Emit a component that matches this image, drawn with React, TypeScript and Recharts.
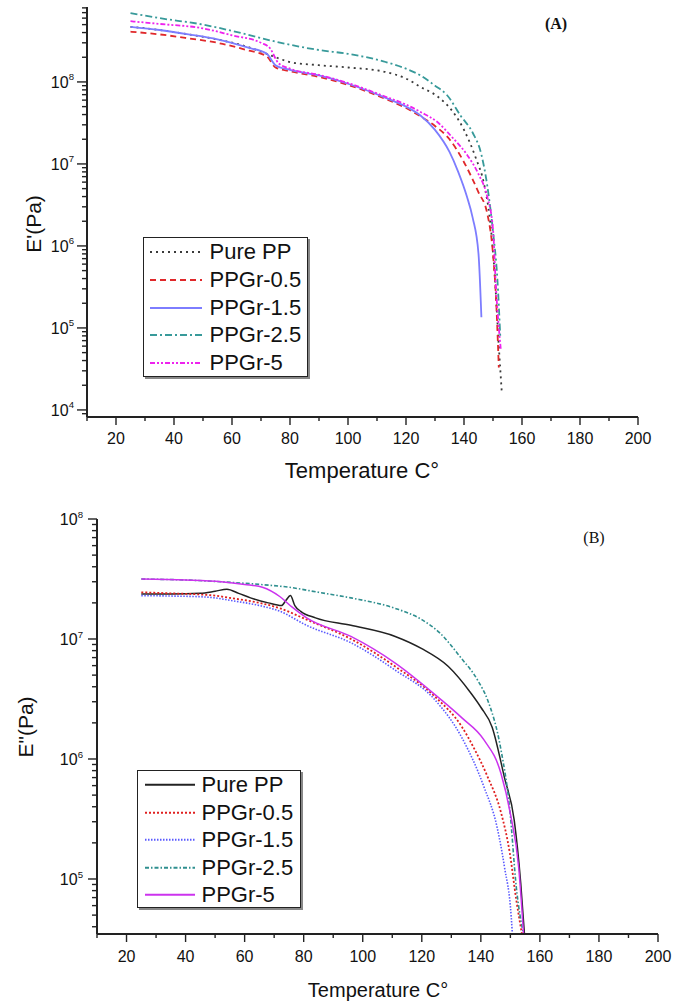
import React from "react";
import { LineChart, Line, XAxis, YAxis, Legend } from "recharts";

const FONT = '"Liberation Sans", Arial, Helvetica, sans-serif';
const SERIF = '"Liberation Serif", "Times New Roman", serif';

// temperature axis (both panels)
const tempTicks = [10, 20, 30, 40, 50, 60, 70, 80, 90, 100, 110, 120, 130, 140, 150, 160, 170, 180, 190, 200];
const tempLabels = [20, 40, 60, 80, 100, 120, 140, 160, 180, 200];

// (A) storage modulus E' (Pa)
const aPureT = [25, 35, 45, 55, 65, 72, 75, 80, 90, 100, 113, 120, 125, 131, 136, 140, 144, 147, 149, 150.5, 152, 153];
const aPureE = [4.7e8, 4.3e8, 3.8e8, 3.3e8, 2.7e8, 2.2e8, 2.0e8, 1.75e8, 1.6e8, 1.5e8, 1.32e8, 1.1e8, 8.7e7, 6.6e7, 4.4e7, 2.6e7, 1.2e7, 5.5e6, 2e6, 5e5, 6e4, 1.7e4];
const a05T = [25, 35, 45, 55, 65, 72, 75, 80, 90, 100, 113, 120, 125, 130, 135, 140, 145, 148, 150, 151, 152];
const a05E = [4.1e8, 3.8e8, 3.4e8, 3.0e8, 2.45e8, 2.05e8, 1.5e8, 1.35e8, 1.15e8, 9.2e7, 6.2e7, 4.8e7, 3.8e7, 2.9e7, 2e7, 1.05e7, 4.5e6, 2.5e6, 8e5, 2.5e5, 3.3e4];
const a15T = [25, 35, 45, 55, 65, 72, 75, 80, 90, 100, 113, 120, 125, 130, 135, 138, 141, 143, 145, 146];
const a15E = [4.7e8, 4.3e8, 3.8e8, 3.3e8, 2.65e8, 2.2e8, 1.6e8, 1.4e8, 1.2e8, 9.5e7, 6.4e7, 5e7, 3.9e7, 2.6e7, 1.4e7, 8e6, 4e6, 2.2e6, 8e5, 1.35e5];
const a25T = [25, 35, 50, 65, 75, 90, 100, 113, 120, 125, 130, 134, 139, 143, 146, 148, 150, 151.5, 152.5];
const a25E = [6.9e8, 6.0e8, 5.0e8, 3.8e8, 3.1e8, 2.45e8, 2.2e8, 1.75e8, 1.45e8, 1.2e8, 9e7, 7e7, 3.8e7, 2.4e7, 1.3e7, 5.5e6, 1.5e6, 4e5, 8e4];
const a5T = [25, 35, 50, 60, 70, 73, 76, 80, 90, 100, 113, 120, 125, 131, 136, 141, 145, 148, 150, 151, 152.7];
const a5E = [5.5e8, 5.1e8, 4.5e8, 3.7e8, 3.0e8, 2.6e8, 1.7e8, 1.45e8, 1.22e8, 9.7e7, 6.6e7, 5.3e7, 4.3e7, 3.2e7, 2.1e7, 1.3e7, 7.5e6, 4e6, 1.6e6, 3.2e5, 5.4e4];

// (B) loss modulus E'' (Pa)
const bPureT = [25, 35, 45, 50, 54, 58, 62, 68, 72.5, 74, 75.5, 77, 79, 84, 96, 111, 120, 129, 136.6, 140, 143.8, 148, 151.3, 153.5, 154.8];
const bPureE = [2.37e7, 2.37e7, 2.4e7, 2.5e7, 2.6e7, 2.4e7, 2.2e7, 2.0e7, 1.9e7, 2.1e7, 2.3e7, 1.9e7, 1.7e7, 1.5e7, 1.3e7, 1.05e7, 8.3e6, 5.9e6, 3.55e6, 2.7e6, 1.85e6, 7e5, 3.1e5, 9.3e4, 3.4e4];
const b05T = [25, 35, 45, 50, 55, 65, 72, 81, 96, 111, 124.5, 133.6, 137.9, 142.3, 146.8, 149.8, 152, 154];
const b05E = [2.45e7, 2.4e7, 2.35e7, 2.3e7, 2.2e7, 2.0e7, 1.8e7, 1.45e7, 1e7, 5.9e6, 3.3e6, 1.85e6, 1.2e6, 7.1e5, 3.6e5, 1.65e5, 6.7e4, 3.4e4];
const b15T = [25, 35, 45, 50, 55, 65, 72, 81, 96, 111, 124.5, 133.6, 141, 145.5, 148, 150.3, 150.7];
const b15E = [2.3e7, 2.28e7, 2.25e7, 2.2e7, 2.1e7, 1.9e7, 1.7e7, 1.3e7, 9.3e6, 5.5e6, 3.1e6, 1.5e6, 5.9e5, 2.7e5, 1.26e5, 4.8e4, 3.4e4];
const b25T = [25, 40, 52, 65, 75, 85, 96, 111, 120, 126, 133, 139, 142.3, 146.8, 149.8, 152, 154.5];
const b25E = [3.16e7, 3.1e7, 3.0e7, 2.85e7, 2.7e7, 2.45e7, 2.2e7, 1.8e7, 1.45e7, 1.13e7, 7.1e6, 4.5e6, 3.1e6, 1.2e6, 3.8e5, 8.6e4, 3.4e4];
const b5T = [25, 40, 52, 60, 66, 72, 76, 81, 96, 111, 126, 133.6, 141, 146.8, 150, 152.8, 154.5];
const b5E = [3.16e7, 3.1e7, 3.0e7, 2.85e7, 2.7e7, 2.25e7, 1.85e7, 1.5e7, 1.05e7, 6.3e6, 3.2e6, 2.2e6, 1.45e6, 7.6e5, 3.5e5, 1.26e5, 3.4e4];

const toPts = (t: number[], e: number[]) => t.map((tv, i) => ({ t: tv, e: e[i] }));

type Series = { name: string; data: { t: number; e: number }[]; color: string; dash?: string; width: number };

const seriesA: Series[] = [
  { name: "Pure PP", data: toPts(aPureT, aPureE), color: "#3a3a3a", dash: "2 4", width: 1.8 },
  { name: "PPGr-0.5", data: toPts(a05T, a05E), color: "#e0282a", dash: "6 4", width: 1.8 },
  { name: "PPGr-1.5", data: toPts(a15T, a15E), color: "#7d7dff", width: 1.8 },
  { name: "PPGr-2.5", data: toPts(a25T, a25E), color: "#389a9a", dash: "7 3 2 3", width: 1.8 },
  { name: "PPGr-5", data: toPts(a5T, a5E), color: "#ee22ee", dash: "5 2 2 2 2 2", width: 1.8 },
];

const seriesB: Series[] = [
  { name: "Pure PP", data: toPts(bPureT, bPureE), color: "#222222", width: 1.5 },
  { name: "PPGr-0.5", data: toPts(b05T, b05E), color: "#e02020", dash: "2 2", width: 1.8 },
  { name: "PPGr-1.5", data: toPts(b15T, b15E), color: "#5a5aff", dash: "1.5 1.5", width: 1.6 },
  { name: "PPGr-2.5", data: toPts(b25T, b25E), color: "#2f8f8f", dash: "4 2 1.5 2", width: 1.6 },
  { name: "PPGr-5", data: toPts(b5T, b5E), color: "#cc33ee", width: 1.5 },
];

// log ticks: decades plus 2..9 minors, kept inside the domain
const logTicks = (decades: number[], lo: number, hi: number) =>
  decades
    .flatMap((d) => [1, 2, 3, 4, 5, 6, 7, 8, 9].map((m) => m * 10 ** d))
    .filter((v) => v >= lo && v <= hi);

const domainA: [number, number] = [8.2e3, 8.2e8];
const domainB: [number, number] = [3.48e4, 1e8];
const yTicksA = logTicks([3, 4, 5, 6, 7, 8], domainA[0], domainA[1]);
const yTicksB = logTicks([4, 5, 6, 7, 8], domainB[0], domainB[1]);

function YLogTick(props: any) {
  const { x, y, payload, major, minor, fontSize, gap } = props;
  const exp = Math.log10(payload.value);
  const isMajor = Math.abs(exp - Math.round(exp)) < 1e-9;
  const len = isMajor ? major : minor;
  return (
    <g>
      <line x1={x} x2={x - len} y1={y} y2={y} stroke="#222" strokeWidth={1.4} />
      {isMajor && (
        <text x={x - major - gap} y={y + fontSize * 0.36} textAnchor="end" fontSize={fontSize} fontFamily={FONT} fill="#111">
          10
          <tspan dy={-fontSize * 0.45} fontSize={fontSize * 0.6}>
            {Math.round(exp)}
          </tspan>
        </text>
      )}
    </g>
  );
}

function XTempTick(props: any) {
  const { x, y, payload, major, minor, fontSize, labelDy } = props;
  const isMajor = tempLabels.includes(payload.value);
  return (
    <g>
      <line x1={x} x2={x} y1={y} y2={y + (isMajor ? major : minor)} stroke="#222" strokeWidth={1.4} />
      {isMajor && (
        <text x={x} y={y + labelDy} textAnchor="middle" fontSize={fontSize} fontFamily={FONT} fill="#111">
          {payload.value}
        </text>
      )}
    </g>
  );
}

function TopTick(props: any) {
  const { x, y } = props;
  return <line x1={x} x2={x} y1={y} y2={y + 3} stroke="#444" strokeWidth={1} />;
}

function LegendBox({ series, rowH, lineX, lineW, textX, fontSize }: any) {
  return (
    <div
      style={{
        position: "relative",
        width: "100%",
        height: "100%",
        boxSizing: "border-box",
        border: "1.5px solid #222",
        boxShadow: "2px 2px 0 #888",
        background: "#fff",
        fontFamily: FONT,
      }}
    >
      {series.map((s: Series, i: number) => (
        <div key={s.name} style={{ position: "absolute", left: 0, top: i * rowH, width: "100%", height: rowH }}>
          <svg style={{ position: "absolute", left: lineX, top: 0 }} width={lineW} height={rowH}>
            <line x1={0} x2={lineW} y1={rowH / 2} y2={rowH / 2} stroke={s.color} strokeWidth={2} strokeDasharray={s.dash} />
          </svg>
          <span style={{ position: "absolute", left: textX, top: 0, lineHeight: `${rowH}px`, fontSize, color: "#111", whiteSpace: "nowrap" }}>
            {s.name}
          </span>
        </div>
      ))}
    </div>
  );
}

const axisStroke = { stroke: "#222", strokeWidth: 2 };

function Panel(props: any) {
  const { series, domain, yTicks, width, height, plot, yTitle, tag, tickFont, yTick, xTick, titles, legend } = props;
  return (
    <LineChart
      width={width}
      height={height}
      margin={{ top: plot.top, right: width - plot.right, left: 0, bottom: 0 }}
    >
      <XAxis
        dataKey="t"
        type="number"
        domain={[10, 200]}
        ticks={tempTicks}
        interval={0}
        height={height - plot.bottom}
        axisLine={axisStroke}
        tickLine={false}
        tickSize={0}
        tickMargin={0}
        tick={(p: any) => <XTempTick {...p} {...xTick} fontSize={tickFont} />}
      />
      <XAxis xAxisId="top" orientation="top" type="number" dataKey="t" domain={[10, 200]} ticks={tempTicks} interval={0} height={0} axisLine={axisStroke} tickLine={false} tickSize={0} tickMargin={0} tick={(p: any) => <TopTick {...p} />} />
      <YAxis
        scale="log"
        type="number"
        domain={domain}
        allowDataOverflow
        ticks={yTicks}
        interval={0}
        width={plot.left}
        axisLine={axisStroke}
        tickLine={false}
        tickSize={0}
        tickMargin={0}
        tick={(p: any) => <YLogTick {...p} {...yTick} fontSize={16} />}
      />
      <YAxis yAxisId="right" orientation="right" scale="log" type="number" domain={domain} allowDataOverflow width={0} axisLine={axisStroke} tickLine={false} tick={false} />
      <Legend
        layout="horizontal"
        verticalAlign="middle"
        align="center"
        wrapperStyle={{ left: legend.left, top: legend.top, width: legend.width, height: legend.height }}
        content={() => <LegendBox series={series} {...legend.row} />}
      />
      {series.map((s: Series) => (
        <Line
          key={s.name}
          data={s.data}
          dataKey="e"
          name={s.name}
          type="monotone"
          stroke={s.color}
          strokeWidth={s.width}
          strokeDasharray={s.dash}
          dot={false}
          activeDot={false}
          isAnimationActive={false}
        />
      ))}
      <text x={titles.xCenter} y={titles.xBase} textAnchor="middle" fontSize={titles.xSize} fontFamily={FONT} fill="#111">
        Temperature C°
      </text>
      <text
        x={titles.yX}
        y={titles.yY}
        transform={`rotate(-90 ${titles.yX} ${titles.yY})`}
        textAnchor="middle"
        dominantBaseline="central"
        fontSize={21}
        fontFamily={FONT}
        fill="#111"
      >
        {yTitle}
      </text>
      <text x={tag.x} y={tag.y} textAnchor="middle" fontSize={16} fontFamily={SERIF} fontWeight={tag.bold ? 700 : 400} fill="#111">
        {tag.text}
      </text>
    </LineChart>
  );
}

export default function App() {
  return (
    <div style={{ position: "absolute", left: 0, top: 0, width: 689, height: 1004, background: "#fff" }}>
      <div style={{ position: "absolute", left: 0, top: 0 }}>
        <Panel
          series={seriesA}
          domain={domainA}
          yTicks={yTicksA}
          width={689}
          height={500}
          plot={{ left: 87, right: 638, top: 7, bottom: 417 }}
          yTitle="E'(Pa)"
          tag={{ text: "(A)", x: 556, y: 29, bold: true }}
          tickFont={16}
          yTick={{ major: 10, minor: 5, gap: 3 }}
          xTick={{ major: 8, minor: 4, labelDy: 27 }}
          titles={{ xCenter: 362, xBase: 478, xSize: 22, yX: 33, yY: 224 }}
          legend={{ left: 143, top: 237, width: 165, height: 140, row: { rowH: 27.8, lineX: 5.5, lineW: 52, textX: 65.5, fontSize: 22 } }}
        />
      </div>
      <div style={{ position: "absolute", left: 0, top: 500 }}>
        <Panel
          series={seriesB}
          domain={domainB}
          yTicks={yTicksB}
          width={689}
          height={504}
          plot={{ left: 97, right: 658, top: 19, bottom: 434 }}
          yTitle={'E"(Pa)'}
          tag={{ text: "(B)", x: 594, y: 43, bold: false }}
          tickFont={16}
          yTick={{ major: 9, minor: 5, gap: 5 }}
          xTick={{ major: 8, minor: 4, labelDy: 28 }}
          titles={{ xCenter: 378, xBase: 497, xSize: 20, yX: 25, yY: 227 }}
          legend={{ left: 137, top: 270, width: 164, height: 138, row: { rowH: 27.5, lineX: 6.5, lineW: 50, textX: 63.5, fontSize: 22 } }}
        />
      </div>
    </div>
  );
}
